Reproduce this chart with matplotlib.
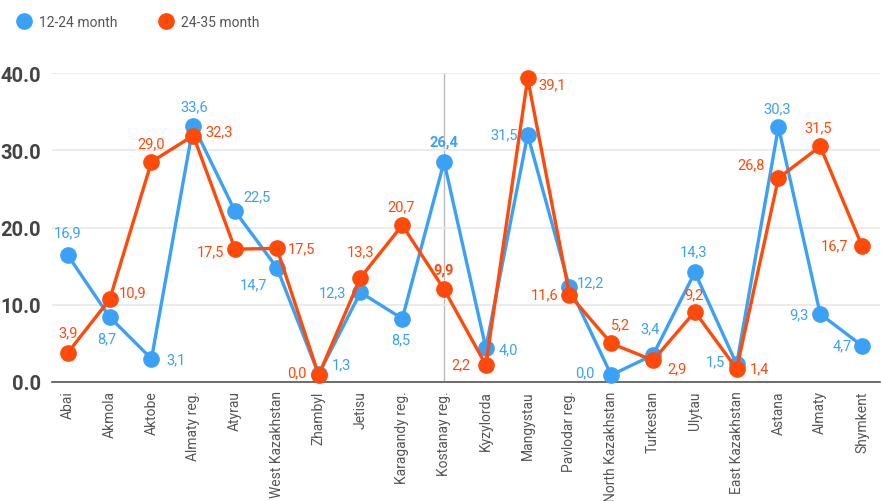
import matplotlib.pyplot as plt
from matplotlib.lines import Line2D

regions = ['Abai', 'Akmola', 'Aktobe', 'Almaty reg.', 'Atyrau', 'West Kazakhstan',
           'Zhambyl', 'Jetisu', 'Karagandy reg.', 'Kostanay reg.', 'Kyzylorda',
           'Mangystau', 'Pavlodar reg.', 'North Kazakhstan', 'Turkestan', 'Ulytau',
           'East Kazakhstan', 'Astana', 'Almaty', 'Shymkent']

# plotted positions
young = [16.4, 8.4, 3.0, 33.2, 22.1, 14.8, 1.0, 11.6, 8.2, 28.5,
         4.4, 32.0, 12.3, 0.9, 3.5, 14.2, 2.3, 33.0, 8.8, 4.7]
old = [3.8, 10.7, 28.5, 31.9, 17.2, 17.3, 0.9, 13.5, 20.3, 12.0,
       2.2, 39.3, 11.3, 5.0, 2.8, 9.1, 1.7, 26.4, 30.5, 17.6]

# value labels as printed on the chart
young_labels = ['16,9', '8,7', '3,1', '33,6', '22,5', '14,7', '1,3', '12,3', '8,5', '26,4',
                '4,0', '31,5', '12,2', '0,0', '3,4', '14,3', '1,5', '30,3', '9,3', '4,7']
old_labels = ['3,9', '10,9', '29,0', '32,3', '17,5', '17,5', '0,0', '13,3', '20,7', '9,9',
              '2,2', '39,1', '11,6', '5,2', '2,9', '9,2', '1,4', '26,8', '31,5', '16,7']

yticks = [0, 10, 20, 30, 40]
highlight = 9  # Kostanay reg.

BLUE = '#3ba1f7'
RED = '#ff4a0a'

# label offsets in pixels (dx, dy)
young_off = [(0, 23), (-3, -21), (25, 0), (1, 19), (22, 15), (-23, -17), (23, 10), (-28, 0),
             (-1, -21), (0, 20), (22, -1), (-24, 1), (21, 5), (-26, 3), (-3, 27), (-1, 21),
             (-21, 3), (-1, 19), (-21, 0), (-20, 0)]
old_off = [(0, 20), (23, 7), (0, 19), (26, 4), (-25, -2), (25, 0), (-22, 3), (0, 26),
           (-1, 19), (0, 20), (-25, 1), (25, -6), (-25, 0), (9, 19), (24, -8), (-1, 17),
           (23, 1), (-27, 14), (-2, 19), (-27, 1)]

plt.rcParams['font.family'] = ['Roboto', 'DejaVu Sans']

fig = plt.figure(figsize=(8.81, 5.02), dpi=100)
ax = fig.add_axes([52 / 881, 1 - 383 / 502, (880 - 52) / 881, (383 - 74) / 502])

x = list(range(len(regions)))
ax.axvline(highlight, color='#bbbbbb', lw=1, zorder=1)
ax.plot(x, young, color=BLUE, lw=2.4, marker='o', ms=11, zorder=3, clip_on=False)
ax.plot(x, old, color=RED, lw=2.4, marker='o', ms=11, zorder=4, clip_on=False)

for i in x:
    fw = 'bold' if i == highlight else 'normal'
    ax.annotate(young_labels[i], (i, young[i]), xytext=young_off[i], textcoords='offset pixels',
                ha='center', va='center', color=BLUE, fontsize=10.5, fontweight=fw, zorder=5)
    ax.annotate(old_labels[i], (i, old[i]), xytext=old_off[i], textcoords='offset pixels',
                ha='center', va='center', color=RED, fontsize=10.5, fontweight=fw, zorder=5)

ax.set_xlim(-0.38, 19.43)
ax.set_ylim(0, 40)
ax.set_yticks(yticks)
ax.set_yticklabels([f'{v:.1f}' for v in yticks], fontsize=14.5, fontweight='bold', color='#444444')
ax.set_xticks(x)
ax.set_xticklabels(regions, rotation=90, fontsize=10, color='#555555')
ax.tick_params(axis='both', length=0)
ax.tick_params(axis='x', pad=6)
ax.tick_params(axis='y', pad=8)
ax.grid(axis='y', color='#e8e8e8', lw=1.2, zorder=0)
for s in ['top', 'right', 'left']:
    ax.spines[s].set_visible(False)
ax.spines['bottom'].set_color('#555555')
ax.spines['bottom'].set_linewidth(1.2)

handles = [Line2D([], [], marker='o', ls='', color=BLUE, ms=11),
           Line2D([], [], marker='o', ls='', color=RED, ms=11)]
fig.legend(handles, ['12-24 month', '24-35 month'], loc='upper left', bbox_to_anchor=(0.0, 0.988),
           ncol=2, frameon=False, fontsize=10, labelcolor='#555555',
           handletextpad=0.1, columnspacing=2.5, borderaxespad=0.3)

fig.savefig('out.png', dpi=100)
